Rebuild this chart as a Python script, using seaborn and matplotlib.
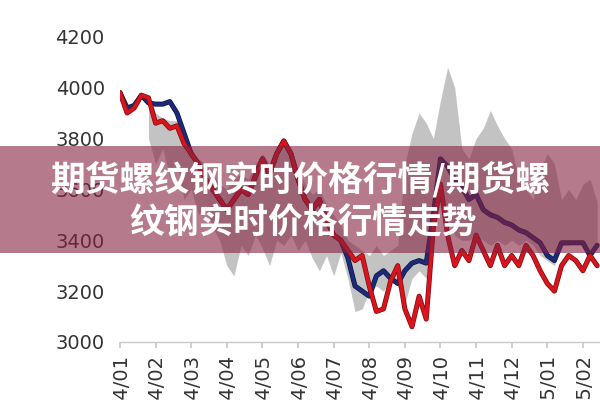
import numpy as np
import pandas as pd
import seaborn as sns
import matplotlib.pyplot as plt
import matplotlib.patheffects as pe
from matplotlib.patches import Rectangle

# month tick labels (x axis in months since 14/01)
months = ['14/01', '14/02', '14/03', '14/04', '14/05', '14/06', '14/07',
          '14/08', '14/09', '14/10', '14/11', '14/12', '15/01', '15/02']
y_ticks = [3000, 3200, 3400, 3600, 3800, 4000, 4200]

# sample times, every 0.2 month
t = np.round(np.arange(0, 13.41, 0.2), 1)

red = [3980, 3900, 3920, 3970, 3960, 3860, 3870, 3840, 3850, 3780,
       3740, 3700, 3640, 3600, 3560, 3520, 3560, 3600, 3580, 3650,
       3720, 3660, 3740, 3790, 3740, 3640, 3560, 3520, 3560, 3480,
       3420, 3400, 3360, 3320, 3340, 3220, 3120, 3130, 3240, 3300,
       3130, 3060, 3180, 3090, 3450, 3620, 3420, 3300, 3360, 3320,
       3420, 3360, 3300, 3380, 3300, 3340, 3300, 3380, 3340, 3280,
       3230, 3200, 3300, 3340, 3320, 3280, 3340, 3300]

blue = [3980, 3920, 3930, 3970, 3940, 3935, 3935, 3945, 3900, 3820,
        3740, 3700, 3640, 3600, 3560, 3520, 3560, 3600, 3580, 3650,
        3720, 3660, 3740, 3790, 3740, 3640, 3560, 3520, 3560, 3480,
        3420, 3400, 3330, 3220, 3200, 3180, 3260, 3280, 3250, 3230,
        3280, 3310, 3320, 3310, 3500, 3720, 3690, 3640, 3610, 3560,
        3580, 3520, 3500, 3490, 3470, 3460, 3440, 3430, 3410, 3390,
        3340, 3320, 3390, 3390, 3390, 3390, 3340, 3380]

gray_hi = [np.nan, np.nan, np.nan, np.nan, 3960, 3900, 3880, 3870, 3870, 3800,
           3760, 3720, 3700, 3660, 3620, 3600, 3640, 3660, 3640, 3700,
           3740, 3700, 3760, 3780, 3760, 3680, 3620, 3580, 3600, 3540,
           3500, 3460, 3400, 3380, 3360, 3340, 3380, 3340, 3360, 3380,
           3700, 3820, 3900, 3860, 3800, 3950, 4080, 4000, 3760, 3720,
           3800, 3840, 3910, 3850, 3800, 3760, 3640, 3600, 3560, 3680,
           3740, 3700, 3560, 3600, 3560, 3620, 3640, 3550]

gray_lo = [np.nan, np.nan, np.nan, np.nan, 3800, 3700, 3760, 3650, 3700, 3560,
           3600, 3500, 3540, 3450, 3400, 3300, 3260, 3380, 3340, 3420,
           3370, 3300, 3400, 3380, 3420, 3360, 3400, 3330, 3280, 3340,
           3260, 3350, 3250, 3120, 3130, 3200, 3220, 3200, 3250, 3220,
           3150, 3250, 3280, 3250, 3450, 3550, 3500, 3420, 3400, 3400,
           3420, 3400, 3380, 3400, 3380, 3400, 3380, 3400, 3380, 3340,
           3320, 3300, 3380, 3380, 3400, 3380, 3360, 3380]

title_1 = '期货螺纹钢实时价格行情/期货螺'
title_2 = '纹钢实时价格行情走势'

sns.set_theme(style='white')
plt.rcParams['font.family'] = ['DejaVu Sans']

fig = plt.figure(figsize=(6, 4), dpi=100)
ax = fig.add_axes([0.2, 0.145, 0.8, 0.795])

ax.fill_between(t, gray_lo, gray_hi, color='#b4b4b4', lw=0, alpha=0.8)

n = len(t)
df = pd.DataFrame({'t': np.concatenate([t, t]),
                   'price': np.concatenate([blue, red]),
                   'series': ['blue'] * n + ['red'] * n})
sns.lineplot(data=df, x='t', y='price', hue='series',
             palette={'blue': '#1c2a7a', 'red': '#d8141c'},
             lw=2.6, legend=False, ax=ax)
edge = {'blue': '#0b123f', 'red': '#7a0a12'}
for line, key in zip(ax.lines, ['blue', 'red']):
    line.set_path_effects([pe.Stroke(linewidth=3.6, foreground=edge[key]), pe.Normal()])

ax.set_xlim(0, 13.48)
ax.set_ylim(3000, 4250)
ax.set_xticks(range(len(months)))
ax.set_xticklabels(months, rotation=90, fontsize=14, color='#333333')
ax.set_yticks(y_ticks)
ax.set_yticklabels([str(v) for v in y_ticks], fontsize=14, color='#333333')
ax.tick_params(axis='x', length=4, color='#c8c8c8', pad=4, bottom=True)
ax.tick_params(axis='y', length=0, pad=11)
ax.set_xlabel('')
ax.set_ylabel('')
for s in ['top', 'right', 'left']:
    ax.spines[s].set_visible(False)
ax.spines['bottom'].set_color('#c8c8c8')
ax.spines['bottom'].set_linewidth(1)

# semi-transparent title banner
fig.add_artist(Rectangle((0, 0.3675), 1, 0.2675, transform=fig.transFigure,
                         facecolor='#84213f', edgecolor='none', alpha=0.6, zorder=10))
cjk = ['Noto Sans CJK SC', 'DejaVu Sans']
fig.text(0.5, 0.5525, title_1, ha='center', va='center', fontsize=25,
         color='white', weight='bold', family=cjk, zorder=11)
fig.text(0.505, 0.4425, title_2, ha='center', va='center', fontsize=25,
         color='white', weight='bold', family=cjk, zorder=11)

fig.savefig('out.png', dpi=100)
plt.close()
